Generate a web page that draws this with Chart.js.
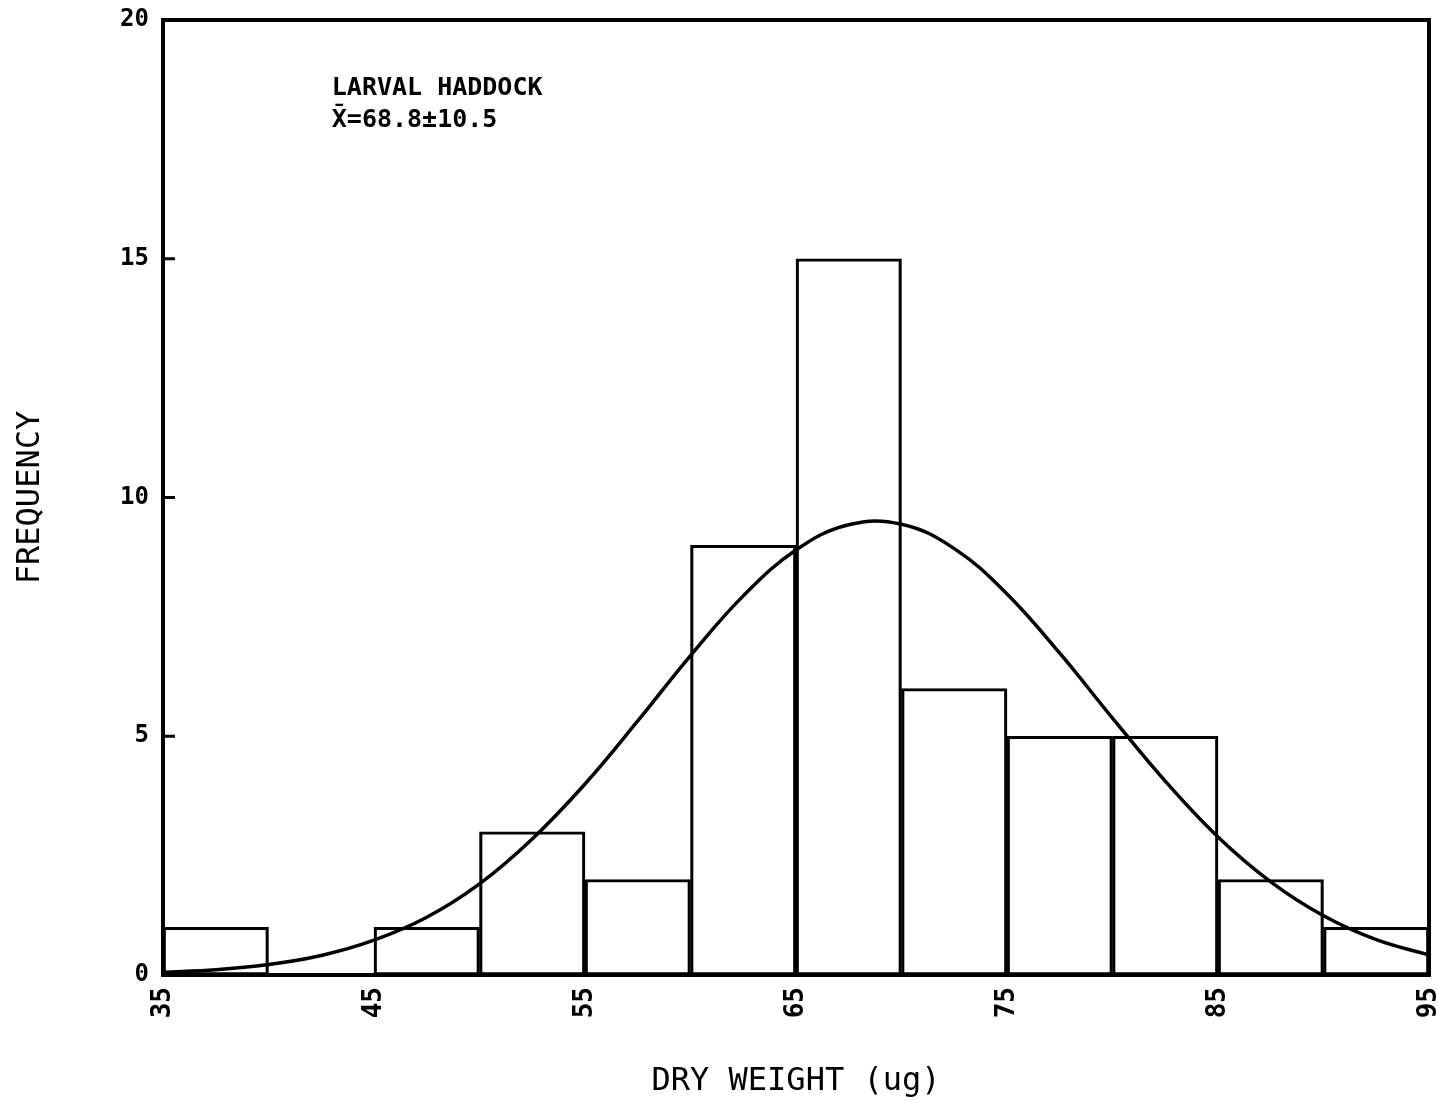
<!DOCTYPE html>
<html>
<head>
<meta charset="utf-8">
<script src="https://cdn.jsdelivr.net/npm/chart.js@4/dist/chart.umd.min.js"></script>
<style>
  html, body { margin: 0; padding: 0; background: #fff; }
  #wrap { width: 1438px; height: 1103px; }
</style>
</head>
<body>
<div id="wrap"><canvas id="c" width="1438" height="1103"></canvas></div>
<script>
// ---- data ----
const BIN_CENTERS = [37.5, 42.5, 47.5, 52.5, 57.5, 62.5, 67.5, 72.5, 77.5, 82.5, 87.5, 92.5];
const FREQUENCY   = [1, 0, 1, 3, 2, 9, 15, 6, 5, 5, 2, 1];
const CURVE_X = [35, 37.5, 40, 42.5, 45, 47.5, 50, 52.5, 55, 57.5, 60, 62.5, 65, 67.5, 70, 72.5, 75, 77.5, 80, 82.5, 85, 87.5, 90, 92.5, 95];
const CURVE_Y = [0.06, 0.11, 0.22, 0.41, 0.73, 1.21, 1.91, 2.85, 4.0, 5.32, 6.69, 7.94, 8.9, 9.43, 9.44, 8.93, 7.98, 6.74, 5.38, 4.06, 2.89, 1.95, 1.24, 0.74, 0.42];
const X_TICKS = [35, 45, 55, 65, 75, 85, 95];
const Y_TICKS = [0, 5, 10, 15, 20];
const ANNOTATION = ['LARVAL HADDOCK', 'X\u0304=68.8\u00B110.5'];
const X_TITLE = 'DRY WEIGHT (ug)';
const Y_TITLE = 'FREQUENCY';

const MONO = '"DejaVu Sans Mono", "Liberation Mono", monospace';

const framePlugin = {
  id: 'frame',
  afterDatasetsDraw(chart) {
    const { ctx, chartArea: a, scales: { x, y } } = chart;
    ctx.save();
    ctx.strokeStyle = '#000';
    ctx.lineWidth = 4;
    ctx.strokeRect(a.left, a.top, a.right - a.left, a.bottom - a.top);
    ctx.lineWidth = 3;
    Y_TICKS.slice(1, -1).forEach(v => {
      const py = y.getPixelForValue(v);
      ctx.beginPath();
      ctx.moveTo(a.left, py);
      ctx.lineTo(a.left + 12, py);
      ctx.stroke();
    });
    ctx.fillStyle = '#000';
    ctx.font = 'bold 25px ' + MONO;
    ctx.textAlign = 'left';
    ctx.textBaseline = 'alphabetic';
    ctx.fillText(ANNOTATION[0], x.getPixelForValue(43.0), y.getPixelForValue(18.43));
    ctx.fillText(ANNOTATION[1], x.getPixelForValue(43.0), y.getPixelForValue(17.75));
    ctx.restore();
  }
};

new Chart(document.getElementById('c'), {
  type: 'bar',
  data: {
    datasets: [
      {
        type: 'line',
        data: CURVE_X.map((v, i) => ({ x: v, y: CURVE_Y[i] })),
        borderColor: '#000',
        borderWidth: 3.5,
        pointRadius: 0,
        tension: 0.4,
        fill: false,
        order: 0
      },
      {
        type: 'bar',
        data: BIN_CENTERS.map((v, i) => ({ x: v, y: FREQUENCY[i] })),
        backgroundColor: 'rgba(255,255,255,0)',
        borderColor: '#000',
        borderWidth: 2.5,
        borderSkipped: false,
        barPercentage: 1,
        categoryPercentage: 1,
        order: 1
      }
    ]
  },
  options: {
    responsive: false,
    animation: false,
    devicePixelRatio: 1,
    layout: { padding: { top: 20, right: 9, left: 0, bottom: 2 } },
    plugins: { legend: { display: false }, tooltip: { enabled: false } },
    scales: {
      x: {
        type: 'linear',
        min: 35, max: 95,
        offset: false,
        afterBuildTicks: s => { s.ticks = X_TICKS.map(v => ({ value: v })); },
        afterFit: s => { s.height = 1103 - 975 - 2; s.paddingLeft = 0; s.paddingRight = 0; },
        grid: { display: false, drawTicks: false },
        border: { display: false },
        ticks: {
          autoSkip: false, minRotation: 90, maxRotation: 90,
          padding: 12, color: '#000',
          font: { family: MONO, size: 26, weight: 'bold' }
        },
        title: {
          display: true, text: X_TITLE, color: '#000',
          font: { family: MONO, size: 32 }, padding: { top: 0, bottom: 0 }
        }
      },
      y: {
        min: 0, max: 20,
        afterBuildTicks: s => { s.ticks = Y_TICKS.map(v => ({ value: v })); },
        afterFit: s => { s.width = 163; s.paddingTop = 0; s.paddingBottom = 0; },
        grid: { display: false, drawTicks: false },
        border: { display: false },
        ticks: {
          padding: 14, color: '#000',
          font: { family: MONO, size: 24, weight: 'bold' }
        },
        title: {
          display: true, text: Y_TITLE, color: '#000',
          font: { family: MONO, size: 32 }, padding: { top: 11, bottom: 0 }
        }
      }
    }
  },
  plugins: [framePlugin]
});
</script>
</body>
</html>
